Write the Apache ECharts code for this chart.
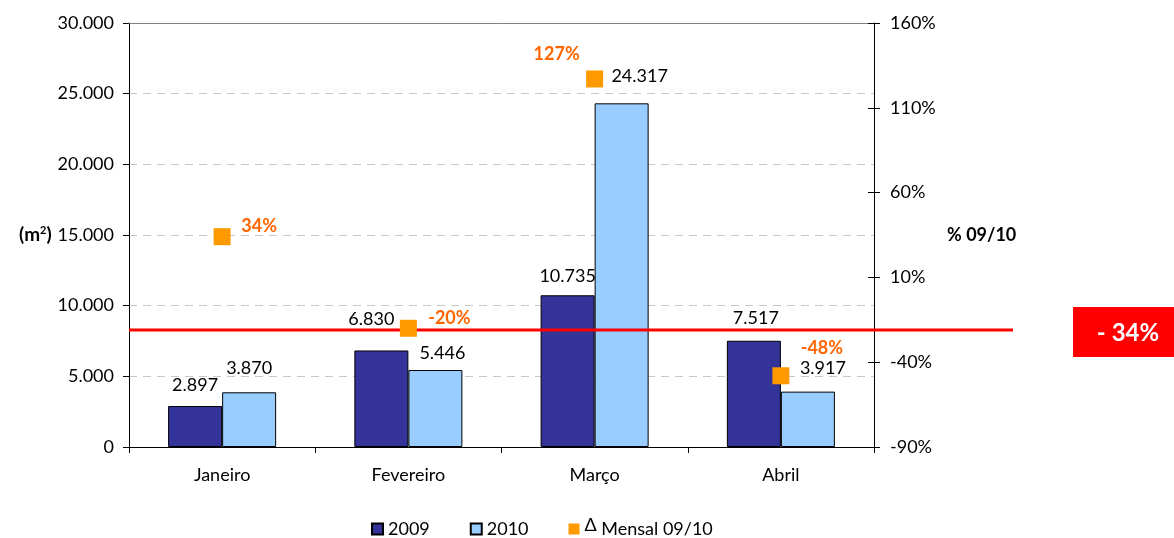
<!DOCTYPE html>
<html><head><meta charset="utf-8">
<script src="https://cdn.jsdelivr.net/npm/echarts@6/dist/echarts.min.js"></script>
<style>html,body{margin:0;padding:0;background:#fff}#c{width:1174px;height:538px}</style>
</head><body><div id="c"></div>
<script>
// ---- data ----
const categories = ['Janeiro', 'Fevereiro', 'Março', 'Abril'];
const values2009 = [2897, 6830, 10735, 7517];
const values2010 = [3870, 5446, 24317, 3917];
const deltaPct = [34, -20, 127, -48];
const seriesNames = ['2009', '2010', 'Mensal 09/10'];
const leftAxisRange = [0, 30000, 5000];
const rightAxisRange = [-90, 160, 50];
const totalLabel = '- 34%';
const refLineValue = 8280;

// ---- presentation ----
const FONT = 'Lato';
const FS = 18;
const fmtThousands = n => String(n).replace(/\B(?=(\d{3})+(?!\d))/g, '.');
const off2009 = [[0, -7], [-10, -17], [0, -5], [2, -9]];
const off2010 = [[0, -10], [7, -3], [18, -13], [15, -9]];
const offDelta = [[37, -11], [41, -10], [-38, -25], [41, -28]];

const chart = echarts.init(document.getElementById('c'));
const GRID = {left: 129, right: 300, top: 23, bottom: 91};

const barLabel = (off) => ({show: true, position: 'top', distance: 5, offset: off,
  color: '#000', fontFamily: FONT, fontSize: FS, formatter: p => fmtThousands(p.value)});

const option = {
  animation: false,
  textStyle: {fontFamily: FONT},
  grid: GRID,
  legend: {
    top: 511, left: 366, itemWidth: 11, itemHeight: 11, itemGap: 40,
    textStyle: {fontFamily: FONT, fontSize: FS, color: '#000',
      rich: {d: {fontSize: 18, color: '#000', fontFamily: FONT, verticalAlign: 'bottom', padding: [0, 0, 8, 0]}}},
    formatter: name => name === seriesNames[2] ? '{d|Δ} ' + name : name,
    data: [
      {name: seriesNames[0], icon: 'rect'},
      {name: seriesNames[1], icon: 'rect'},
      {name: seriesNames[2], icon: 'rect'}
    ]
  },
  xAxis: [{
    type: 'category', data: categories, position: 'bottom',
    axisLine: {lineStyle: {color: '#000', width: 1}},
    axisTick: {show: true, length: 6, lineStyle: {color: '#000'}},
    axisLabel: {color: '#000', fontFamily: FONT, fontSize: FS, margin: 19}
  }, {
    type: 'category', data: categories, position: 'top',
    axisLine: {show: true, onZero: false, lineStyle: {color: '#808080', width: 1}},
    axisTick: {show: false}, axisLabel: {show: false}
  }],
  yAxis: [{
    type: 'value', min: leftAxisRange[0], max: leftAxisRange[1], interval: leftAxisRange[2],
    position: 'left',
    name: '(m{s|2})', nameLocation: 'middle', nameRotate: 0, nameGap: 77,
    nameTextStyle: {fontFamily: FONT, fontWeight: 'bold', fontSize: 19, color: '#000',
      rich: {s: {fontSize: 11, fontWeight: 'bold', fontFamily: FONT, verticalAlign: 'top', padding: [0, 0, 9, 0]}}},
    axisLine: {show: true, lineStyle: {color: '#000'}},
    axisTick: {show: true, length: 6, lineStyle: {color: '#000'}},
    axisLabel: {color: '#000', fontFamily: FONT, fontSize: FS, margin: 15, formatter: v => fmtThousands(v)},
    splitLine: {show: true, lineStyle: {color: '#c8c8c8', type: [8, 6]}}
  }, {
    type: 'value', min: rightAxisRange[0], max: rightAxisRange[1], interval: rightAxisRange[2],
    position: 'right',
    name: '% 09/10', nameLocation: 'middle', nameRotate: 0, nameGap: 73,
    nameTextStyle: {fontFamily: FONT, fontWeight: 'bold', fontSize: FS, color: '#000'},
    axisLine: {show: true, lineStyle: {color: '#000'}},
    axisTick: {show: true, length: 6, lineStyle: {color: '#000'}},
    axisLabel: {color: '#000', fontFamily: FONT, fontSize: FS, margin: 16, formatter: v => v + '%'},
    splitLine: {show: false}
  }, {
    type: 'value', min: rightAxisRange[0], max: rightAxisRange[1], interval: rightAxisRange[2],
    position: 'right',
    axisLine: {show: false},
    axisTick: {show: true, inside: true, length: 6, lineStyle: {color: '#000'}},
    axisLabel: {show: false}, splitLine: {show: false}
  }],
  series: [{
    name: seriesNames[0], type: 'bar', xAxisIndex: 0, yAxisIndex: 0,
    barGap: '0%', barCategoryGap: '42%',
    itemStyle: {color: '#333399', borderColor: '#000', borderWidth: 1},
    data: values2009.map((v, i) => ({value: v, label: barLabel(off2009[i])})),
    z: 2
  }, {
    name: seriesNames[1], type: 'bar', xAxisIndex: 0, yAxisIndex: 0,
    barGap: '0%', barCategoryGap: '42%',
    itemStyle: {color: '#99CCFF', borderColor: '#000', borderWidth: 1},
    data: values2010.map((v, i) => ({value: v, label: barLabel(off2010[i])})),
    z: 2
  }, {
    name: seriesNames[2], type: 'scatter', xAxisIndex: 0, yAxisIndex: 1,
    symbol: 'rect', symbolSize: 17,
    itemStyle: {color: '#FF9900', opacity: 1},
    data: deltaPct.map((v, i) => ({value: v, label: {
      show: true, position: 'inside', offset: offDelta[i], color: '#FF6600',
      fontFamily: FONT, fontWeight: 'bold', fontSize: FS, formatter: p => p.value + '%'}})),
    z: 5
  }]
};
chart.setOption(option);

const yLine = chart.convertToPixel({yAxisIndex: 0}, refLineValue);
chart.setOption({
  graphic: [{
    type: 'line', z: 3,
    shape: {x1: GRID.left, y1: yLine, x2: 1013, y2: yLine},
    style: {stroke: '#FF0000', lineWidth: 3}
  }, {
    type: 'rect', z: 3,
    shape: {x: 1073, y: 307, width: 110, height: 50},
    style: {fill: '#FF0000'}
  }, {
    type: 'text', z: 4, x: 1128, y: 333,
    style: {text: totalLabel, fill: '#fff', font: 'bold 24px ' + FONT, align: 'center', verticalAlign: 'middle'}
  }]
});
</script>
</body></html>
